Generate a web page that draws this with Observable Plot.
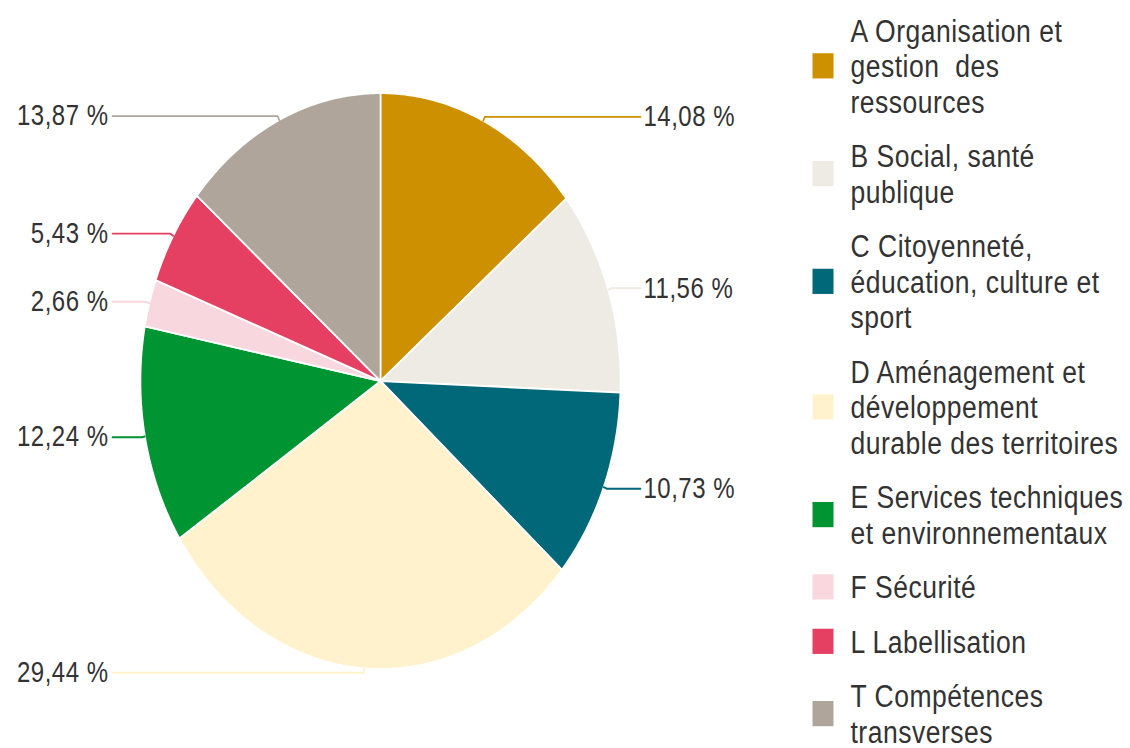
<!DOCTYPE html>
<html>
<head>
<meta charset="utf-8">
<script src="https://cdn.jsdelivr.net/npm/d3@7"></script>
<script src="https://cdn.jsdelivr.net/npm/@observablehq/plot@0.6"></script>
<style>
  html, body { margin: 0; padding: 0; background: #ffffff; }
  #chart { width: 1130px; height: 748px; overflow: hidden; }
  #chart svg text { letter-spacing: 0.5px; }
  #chart svg text.pct { letter-spacing: 0.4px; }
</style>
</head>
<body>
<div id="chart"></div>
<script>
// ---- data ----
const codes = ["A", "B", "C", "D", "E", "F", "L", "T"];
const legendLabels = [
  "A Organisation et\ngestion  des\nressources",
  "B Social, santé\npublique",
  "C Citoyenneté,\néducation, culture et\nsport",
  "D Aménagement et\ndéveloppement\ndurable des territoires",
  "E Services techniques\net environnementaux",
  "F Sécurité",
  "L Labellisation",
  "T Compétences\ntransverses"
];
const shares = [14.08, 11.56, 10.73, 29.44, 12.24, 2.66, 5.43, 13.87];
const colors = ["#CC9000", "#EEEAE4", "#006878", "#FFF2CC", "#009432", "#F8D7DE", "#E54062", "#B0A59B"];

// ---- layout (logical, before the vertical stretch of 1.2) ----
const W = 1130, H_OUT = 748, STRETCH = 1.2, H = H_OUT / STRETCH;
const CX = 380, CY = 380.5 / STRETCH, R = 240;
const unitX = px => (px - CX) / R;                      // reference pixel x -> unit
const unitY = pyRef => (380.5 - pyRef) / (R * STRETCH); // reference pixel y -> unit

const rows = codes.map((c, i) => ({code: c, label: legendLabels[i], value: shares[i], color: colors[i]}));

// pie angles (clockwise from top)
const arcs = d3.pie().sort(null).value(d => d.value).startAngle(0).endAngle(2 * Math.PI)(rows);

// wedge outlines
const wedgePts = [];
arcs.forEach(a => {
  const n = Math.max(2, Math.ceil((a.endAngle - a.startAngle) / (Math.PI / 360)));
  wedgePts.push({code: a.data.code, color: a.data.color, x: 0, y: 0});
  for (let k = 0; k <= n; k++) {
    const t = a.startAngle + (a.endAngle - a.startAngle) * k / n;
    wedgePts.push({code: a.data.code, color: a.data.color, x: Math.sin(t), y: Math.cos(t)});
  }
});

// leader lines and labels
const xRightEnd = unitX(640), xLeftEnd = unitX(112);
const leaderPts = [];
const pctLabels = [];
arcs.forEach(a => {
  const m = (a.startAngle + a.endAngle) / 2;
  const right = Math.sin(m) >= 0;
  const yy = 1.015 * Math.cos(m);
  leaderPts.push({code: a.data.code, color: a.data.color, x: Math.sin(m), y: Math.cos(m)});
  leaderPts.push({code: a.data.code, color: a.data.color, x: 1.015 * Math.sin(m), y: yy});
  leaderPts.push({code: a.data.code, color: a.data.color, x: right ? xRightEnd : xLeftEnd, y: yy});
  pctLabels.push({
    text: a.data.value.toFixed(2).replace(".", ",") + " %",
    x: right ? xRightEnd : xLeftEnd,
    y: yy,
    anchor: right ? "start" : "end"
  });
});

// legend positions
const LH = 35.5, GAP = 19, START = 12;
let cursor = START;
const legendRows = rows.map(r => {
  const nLines = r.label.split("\n").length;
  const center = cursor + nLines * LH / 2;
  cursor += nLines * LH + GAP;
  return {...r, y: unitY(center)};
});
const legendSquareX = unitX(822.5), legendTextX = unitX(850);

const FONT = "'Liberation Sans', Arial, sans-serif";

const plot = Plot.plot({
  width: W,
  height: H,
  margin: 0,
  x: {domain: [-1, 1], range: [CX - R, CX + R], axis: null},
  y: {domain: [-1, 1], range: [CY + R, CY - R], axis: null},
  color: {type: "identity"},
  style: {fontFamily: FONT, background: "#ffffff", overflow: "visible"},
  marks: [
    Plot.line(wedgePts, {x: "x", y: "y", z: "code", fill: "color", stroke: "#ffffff", strokeWidth: 1.6, curve: "linear-closed"}),
    Plot.line(leaderPts, {x: "x", y: "y", z: "code", stroke: "color", strokeWidth: 1.6}),
    Plot.text(pctLabels.filter(d => d.anchor === "start"), {x: "x", y: "y", text: "text", textAnchor: "start", dx: 3, fontSize: 24, fill: "#333333", className: "pct"}),
    Plot.text(pctLabels.filter(d => d.anchor === "end"), {x: "x", y: "y", text: "text", textAnchor: "end", dx: -4, fontSize: 24, fill: "#333333", className: "pct"}),
    Plot.dot(legendRows, {x: () => legendSquareX, y: "y", symbol: "square", r: 11.85, fill: "color"}),
    Plot.text(legendRows, {x: () => legendTextX, y: "y", text: "label", textAnchor: "start", fontSize: 26.5, lineHeight: LH / STRETCH / 26.5, fill: "#333333"})
  ]
});

// stretch vertically like the reference
plot.setAttribute("preserveAspectRatio", "none");
plot.setAttribute("width", W);
plot.setAttribute("height", H_OUT);
plot.style.width = W + "px";
plot.style.height = H_OUT + "px";
plot.style.maxWidth = "none";
document.getElementById("chart").appendChild(plot);
</script>
</body>
</html>
